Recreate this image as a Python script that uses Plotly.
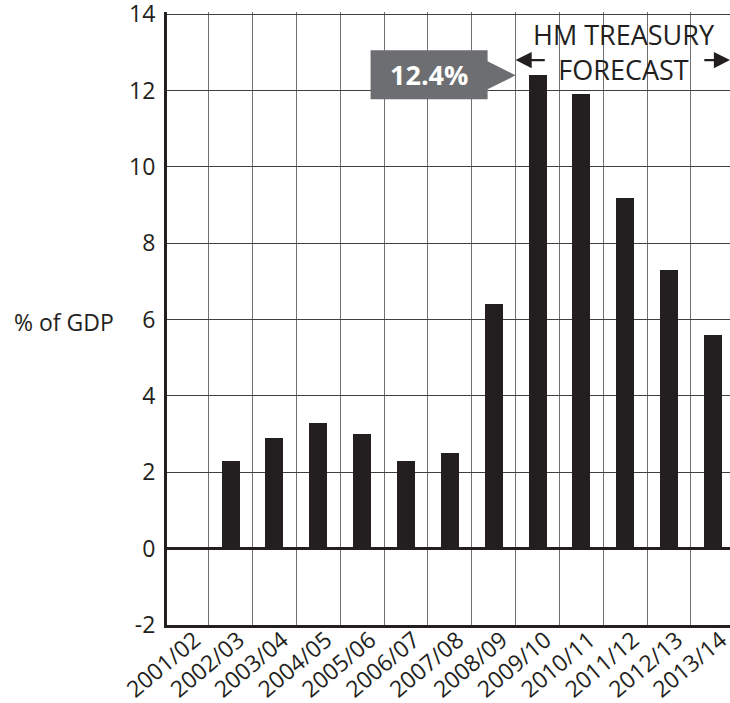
import plotly.graph_objects as go

# Fiscal years shown on the category axis (one gridline per year)
years = ["2001/02", "2002/03", "2003/04", "2004/05", "2005/06", "2006/07",
         "2007/08", "2008/09", "2009/10", "2010/11", "2011/12", "2012/13", "2013/14"]

# Public sector net borrowing, % of GDP
bar_years = ["2002/03", "2003/04", "2004/05", "2005/06", "2006/07", "2007/08",
             "2008/09", "2009/10", "2010/11", "2011/12", "2012/13", "2013/14"]
borrowing = [2.3, 2.9, 3.3, 3.0, 2.3, 2.5, 6.4, 12.4, 11.9, 9.2, 7.3, 5.6]

y_ticks = [-2, 0, 2, 4, 6, 8, 10, 12, 14]
y_tick_text = ["-2", "0", "2", "4", "6", "8", "10", "12", "14"]

peak_year = "2009/10"
forecast_start = "2008/09"

INK = "#231f20"
FONT = "Open Sans"

grid_pos = list(range(len(years)))
# each bar sits in the cell just left of its year's gridline
bar_x = [years.index(y) - 0.5 for y in bar_years]
# labels are placed at cell centres and shifted onto the gridlines
label_pos = [years.index(y) - 0.5 for y in years]

fig = go.Figure()
fig.add_trace(go.Bar(
    x=bar_x, y=borrowing, width=0.41,
    marker=dict(color=INK, line=dict(width=0)),
    hoverinfo="skip", showlegend=False,
))

peak_val = borrowing[bar_years.index(peak_year)]
peak_anchor = bar_x[bar_years.index(peak_year)] - 0.5

# grey callout box with a wedge pointing at the peak bar
fig.add_shape(
    type="path", xref="x", yref="y",
    xsizemode="pixel", ysizemode="pixel",
    xanchor=peak_anchor, yanchor=peak_val,
    path="M 0 0 L -28 14 L -28 25 L -145 25 L -145 -24 L -28 -24 L -28 -14 Z",
    fillcolor="#6d6e71", line=dict(width=0), layer="above",
)
fig.add_annotation(
    x=peak_anchor, y=peak_val, xref="x", yref="y",
    text="<b>%.1f%%</b>" % peak_val, showarrow=False,
    xshift=-87, yshift=1,
    font=dict(family=FONT, size=27, color="white"),
)

# forecast period marker
fc_left = years.index(forecast_start)
fig.add_annotation(
    x=9.47, y=13.0, xref="x", yref="y",
    text="HM TREASURY<br>FORECAST", showarrow=False,
    font=dict(family=FONT, size=27, color=INK),
    align="center",
)
fig.add_annotation(
    x=fc_left, y=12.8, ax=fc_left + 0.7, ay=12.8,
    xref="x", yref="y", axref="x", ayref="y",
    text="", showarrow=True, arrowhead=2, arrowsize=1.4,
    arrowwidth=2.3, arrowcolor=INK,
)
fig.add_annotation(
    x=11.89, y=12.8, ax=11.27, ay=12.8,
    xref="x", yref="y", axref="x", ayref="y",
    text="", showarrow=True, arrowhead=2, arrowsize=1.4,
    arrowwidth=2.3, arrowcolor=INK,
)

# horizontal y-axis title
fig.add_annotation(
    x=0, y=0.5, xref="paper", yref="paper",
    xanchor="right", xshift=-51, yshift=-3,
    text="% of GDP", showarrow=False,
    font=dict(family=FONT, size=23, color=INK),
)

fig.update_xaxes(
    range=[-0.95, 11.89], tickvals=label_pos, ticktext=years,
    ticklabelshift=8, ticklabelstandoff=-10,
    ticklabeloverflow="allow", automargin=False,
    tickangle=-40, ticks="", showgrid=False,
    minor=dict(tickvals=grid_pos, showgrid=True, gridcolor="#707070",
               gridwidth=1, ticks=""),
    showline=True, linecolor=INK, linewidth=2.5, zeroline=False,
    tickfont=dict(family=FONT, size=23, color=INK),
)
fig.update_yaxes(
    range=[-2, 14.06], tickvals=y_ticks, ticktext=y_tick_text, ticks="",
    ticklabeloverflow="allow", automargin=False,
    showgrid=True, gridcolor="#404040", gridwidth=1,
    zeroline=True, zerolinecolor=INK, zerolinewidth=2.5,
    showline=True, linecolor=INK, linewidth=3,
    ticklabelstandoff=4,
    tickfont=dict(family=FONT, size=23, color=INK),
)

fig.update_layout(
    width=730, height=703,
    margin=dict(l=167, r=0, t=12, b=78),
    plot_bgcolor="white", paper_bgcolor="white",
    bargap=0, showlegend=False,
)

fig.write_html("out.html")
